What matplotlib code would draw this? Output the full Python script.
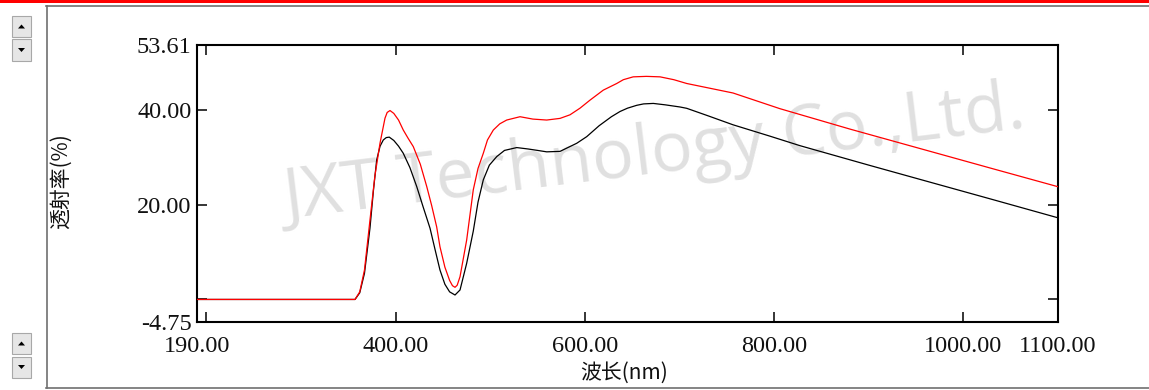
import matplotlib
matplotlib.use("Agg")
import matplotlib.pyplot as plt
from matplotlib.patches import Rectangle, Polygon
from matplotlib.lines import Line2D

# ---------------- data ----------------
black_x = [190, 250, 300, 357, 362, 367, 372.8, 376.5, 379.9, 383.5, 386.9, 390, 393.2, 398, 403,
           408, 415, 422.2, 429, 436.3, 441.5, 446.8, 452, 457, 462.7, 468, 475, 482, 487,
           492.6, 499, 506.8, 515, 527.9, 540, 550, 559.6, 573.7, 583, 591.3, 601.9, 615,
           628, 637.1, 645, 654.7, 662, 672.3, 685, 700.5, 707.6, 730, 756.5, 795.6, 827.3,
           900, 954.1, 1030, 1100]
black_y = [0.0, 0.0, 0.0, 0.0, 1.4, 5.5, 15.0, 23.0, 29.4, 32.3, 33.6, 34.1, 34.2, 33.5, 32.3,
           30.8, 27.8, 23.8, 19.5, 15.0, 10.6, 6.2, 3.2, 1.6, 0.94, 2.0, 7.6, 14.4, 20.5,
           25.2, 28.3, 30.1, 31.4, 32.0, 31.7, 31.4, 31.1, 31.2, 32.1, 32.9, 34.3, 36.6,
           38.5, 39.6, 40.3, 40.9, 41.2, 41.3, 41.0, 40.55, 40.27, 38.7, 36.8, 34.4, 32.4,
           28.3, 25.3, 21.1, 17.2]

red_x = [190, 250, 300, 357, 362, 367, 372.8, 378, 383.4, 388.7, 391, 394, 398, 403, 408,
         413, 418.6, 426, 432.8, 438, 443.3, 446.8, 452, 457, 460, 462.7, 465, 468, 475,
         482, 487, 492.6, 497, 503.2, 510, 517.3, 531.4, 545, 559.6, 573.7, 584.2, 594.8,
         605.4, 619.4, 633.6, 640.6, 651, 665, 679.4, 694, 707.6, 756.5, 806, 880, 954.1,
         1030, 1100]
red_y = [0.0, 0.0, 0.0, 0.0, 1.6, 6.2, 16.7, 26.0, 32.9, 38.2, 39.4, 39.8, 39.2, 37.8, 35.7,
         34.0, 32.2, 28.5, 23.8, 19.8, 15.3, 11.1, 6.8, 4.0, 2.9, 2.56, 3.0, 4.8, 12.5,
         23.1, 27.6, 30.8, 33.6, 35.7, 37.0, 37.8, 38.5, 38.0, 37.8, 38.15, 38.9, 40.3,
         42.0, 44.1, 45.5, 46.3, 46.9, 47.0, 46.9, 46.3, 45.5, 43.5, 40.2, 35.9, 31.8,
         27.6, 23.75]

x_label_values = [190.00, 400.00, 600.00, 800.00, 1000.00, 1100.00]
y_label_values = [-4.75, 20.00, 40.00, 53.61]
x_tick_only = [200.0]
y_tick_only = [0.0]
x_min, x_max = 190.00, 1100.00
y_min, y_max = -4.75, 53.61

x_title = "波长(nm)"
y_title = "透射率(%)"
watermark = "JXT Technology Co.,Ltd."

# ---------------- figure ----------------
W, H = 1149, 390
fig = plt.figure(figsize=(W / 100, H / 100), dpi=100)
fig.patch.set_facecolor("white")


def fx(px):
    return px / W


def fy(py):
    return 1 - py / H


# window decorations
fig.add_artist(Rectangle((0, fy(2.5)), 1, 2.5 / H, transform=fig.transFigure,
                         facecolor="#ff0000", edgecolor="none"))
fig.add_artist(Line2D([fx(46), 1], [fy(5.5), fy(5.5)], transform=fig.transFigure,
                      color="#707070", lw=1.2))
fig.add_artist(Line2D([fx(46.5), fx(46.5)], [fy(5.5), fy(388)], transform=fig.transFigure,
                      color="#707070", lw=1.2))
fig.add_artist(Line2D([fx(46), 1], [fy(388), fy(388)], transform=fig.transFigure,
                      color="#707070", lw=1.2))


def button(y0, up):
    x0, w, h = 12, 19, 21
    fig.add_artist(Rectangle((fx(x0), fy(y0 + h)), w / W, h / H, transform=fig.transFigure,
                             facecolor="#e6e6e6", edgecolor="#a8a8a8", lw=0.8))
    cx, cy = x0 + w / 2, y0 + h / 2
    if up:
        pts = [(cx - 3.5, cy + 2), (cx + 3.5, cy + 2), (cx, cy - 2)]
    else:
        pts = [(cx - 3.5, cy - 2), (cx + 3.5, cy - 2), (cx, cy + 2)]
    fig.add_artist(Polygon([(fx(a), fy(b)) for a, b in pts], closed=True,
                           transform=fig.transFigure, facecolor="black", edgecolor="none"))


button(16, True)
button(39.5, False)
button(333, True)
button(356.5, False)

# axes
ax = fig.add_axes([fx(197), fy(322), (1058 - 197) / W, (322 - 45) / H])
ax.set_facecolor("none")
ax.plot(black_x, black_y, color="black", lw=0.9, zorder=3)
ax.plot(red_x, red_y, color="#ff0000", lw=0.9, zorder=4)
ax.set_xlim(x_min, x_max)
ax.set_ylim(y_min, y_max)

ax.set_xticks(x_label_values)
ax.set_xticklabels([f"{v:.2f}" for v in x_label_values])
ax.set_yticks(y_label_values)
ax.set_yticklabels([f"{v:.2f}" for v in y_label_values])
ax.set_xticks(x_tick_only, minor=True)
ax.set_yticks(y_tick_only, minor=True)

for s in ax.spines.values():
    s.set_linewidth(1.5)
    s.set_color("black")

ax.tick_params(which="both", direction="in", length=7.5, width=1.1, top=True, right=True,
               colors="black")
ax.tick_params(axis="x", which="major", pad=10)
ax.tick_params(axis="y", which="major", pad=4)
for lab in ax.get_xticklabels() + ax.get_yticklabels():
    lab.set_fontfamily("Liberation Serif")
    lab.set_fontsize(17.5)
    lab.set_color("#111111")

# watermark
ax.text(fx(655), fy(156), watermark, transform=fig.transFigure, fontsize=50,
        family="Open Sans", color="#e0e0e0", rotation=7, ha="center", va="center",
        rotation_mode="anchor", zorder=1)

# axis titles
fig.text(fx(61), fy(181), y_title, rotation=90, ha="center", va="center",
         family=["Noto Sans CJK SC", "DejaVu Sans"], fontsize=15, color="#111111")
fig.text(fx(624), fy(373), x_title, ha="center", va="center",
         family=["Noto Sans CJK SC", "DejaVu Sans"], fontsize=15, color="#111111")

fig.savefig("out.png", dpi=100, facecolor="white")
